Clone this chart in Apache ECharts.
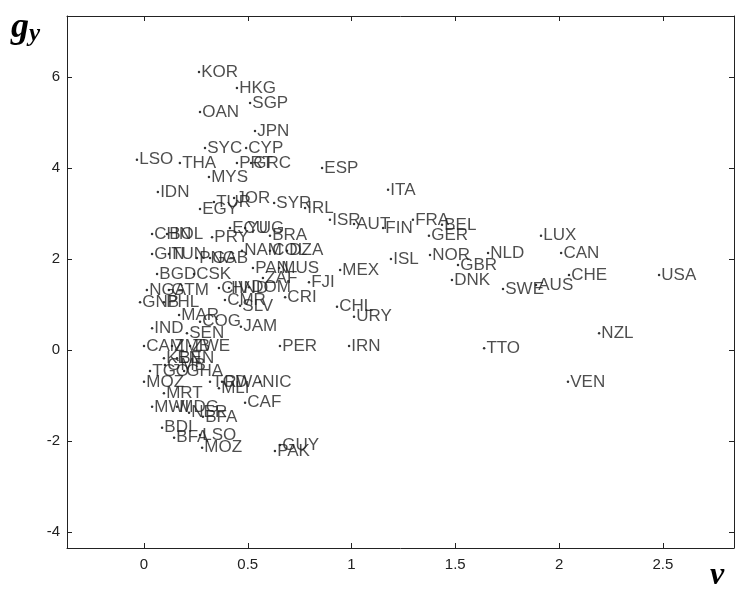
<!DOCTYPE html>
<html><head><meta charset="utf-8">
<script src="https://cdn.jsdelivr.net/npm/echarts@6/dist/echarts.min.js"></script>
<style>html,body{margin:0;padding:0;background:#fff}#c{width:736px;height:590px}</style>
</head><body><div id="c"></div>
<script>
const countries = ["KOR","HKG","SGP","OAN","JPN","SYC","CYP","LSO","THA","PRT","GRC","ESP","MYS","IDN","ITA","TUR","JOR","EGY","SYR","IRL","ISR","AUT","FIN","FRA","BEL","GER","LUX","ECU","YUG","CHN","BOL","PRY","BRA","NAM","COL","DZA","GIN","TUN","PNG","GAB","ISL","NOR","NLD","CAN","GBR","MEX","PAN","MUS","CHE","USA","BGD","CSK","ZAF","DNK","FJI","AUS","SWE","NGA","GTM","CIV","HND","DOM","CRI","CMR","GNB","PHL","SLV","CHL","MAR","URY","COG","JAM","IND","NZL","SEN","PER","IRN","TTO","CAM","ZMB","ZWE","KEN","BEN","TGO","GMB","GHA","VEN","MOZ","TCD","RWA","NIC","MLI","MRT","CAF","MWI","MDG","NER","BFA","BDI","BFA","LSO","MOZ","GUY","PAK"];
const xVals = [0.265,0.448,0.511,0.270,0.535,0.294,0.492,-0.034,0.173,0.448,0.516,0.858,0.313,0.067,1.176,0.337,0.434,0.270,0.627,0.776,0.896,1.012,1.152,1.296,1.436,1.373,1.913,0.414,0.487,0.039,0.111,0.328,0.607,0.472,0.607,0.689,0.039,0.120,0.255,0.318,1.190,1.378,1.658,2.010,1.513,0.945,0.525,0.651,2.048,2.482,0.063,0.241,0.573,1.484,0.795,1.889,1.730,0.014,0.120,0.361,0.410,0.506,0.680,0.390,-0.019,0.096,0.463,0.930,0.169,1.012,0.270,0.467,0.039,2.193,0.207,0.655,0.988,1.639,0.000,0.135,0.222,0.096,0.159,0.029,0.101,0.193,2.043,0.000,0.318,0.376,0.559,0.361,0.096,0.487,0.039,0.159,0.217,0.284,0.087,0.145,0.270,0.280,0.655,0.631];
const yVals = [6.11,5.76,5.43,5.23,4.81,4.44,4.44,4.18,4.11,4.11,4.11,4.00,3.80,3.47,3.52,3.25,3.34,3.10,3.23,3.12,2.86,2.77,2.68,2.86,2.75,2.51,2.51,2.68,2.68,2.55,2.55,2.48,2.51,2.18,2.18,2.18,2.11,2.11,2.02,2.02,2.00,2.09,2.13,2.13,1.87,1.76,1.80,1.80,1.65,1.65,1.67,1.67,1.58,1.54,1.49,1.43,1.34,1.32,1.32,1.36,1.36,1.38,1.16,1.10,1.05,1.05,0.97,0.95,0.77,0.73,0.62,0.51,0.48,0.37,0.37,0.09,0.09,0.04,0.09,0.09,0.09,-0.18,-0.18,-0.46,-0.33,-0.46,-0.70,-0.70,-0.70,-0.70,-0.70,-0.84,-0.95,-1.16,-1.25,-1.25,-1.38,-1.47,-1.71,-1.93,-1.87,-2.15,-2.09,-2.22];
const xTicks = [0,0.5,1,1.5,2,2.5];
const yTicks = [-4,-2,0,2,4,6];

const chart = echarts.init(document.getElementById('c'), null, {renderer:'canvas'});
const lineStyle = {color:'#222', width:1};
const tickStyle = {show:true, inside:true, length:5, lineStyle:{color:'#222', width:1}};
const tickFont = {color:'#222', fontSize:15, fontFamily:'"Liberation Sans Narrow","Liberation Sans",Arial,sans-serif'};
function xAx(pos, lab){
  return {type:'value', position:pos, min:-0.371, max:2.843,
    axisLine:{show:true, onZero:false, lineStyle},
    axisTick:Object.assign({customValues:xTicks}, tickStyle),
    axisLabel:Object.assign({show:lab, customValues:xTicks, margin:9, formatter:v=>String(v)}, tickFont),
    splitLine:{show:false}};
}
function yAx(pos, lab){
  return {type:'value', position:pos, min:-4.352, max:7.34,
    axisLine:{show:true, onZero:false, lineStyle},
    axisTick:Object.assign({customValues:yTicks}, tickStyle),
    axisLabel:Object.assign({show:lab, customValues:yTicks, margin:7, formatter:v=>String(v)}, tickFont),
    splitLine:{show:false}};
}
chart.setOption({
  animation:false,
  backgroundColor:'#fff',
  grid:{left:67, right:2, top:16, bottom:42, containLabel:false},
  xAxis:[xAx('bottom', true), xAx('top', false)],
  yAxis:[yAx('left', true), yAx('right', false)],
  graphic:[
    {type:'text', left:11, top:10, style:{text:'{g|g}{s|y}', rich:{
      g:{fontFamily:'"Liberation Serif","DejaVu Serif",serif', fontWeight:'bold', fontStyle:'italic', fontSize:36, fill:'#000'},
      s:{fontFamily:'"Liberation Serif","DejaVu Serif",serif', fontWeight:'bold', fontStyle:'italic', fontSize:25, fill:'#000', padding:[14,0,0,0]}
    }}},
    {type:'text', left:710, top:560, style:{text:'v', fontFamily:'"Liberation Serif","DejaVu Serif",serif', fontWeight:'bold', fontStyle:'italic', fontSize:32, fill:'#000'}}
  ],
  series:[{
    type:'scatter', xAxisIndex:0, yAxisIndex:0,
    data:countries.map((c,i)=>[xVals[i], yVals[i], c]),
    symbol:'circle', symbolSize:2.5,
    itemStyle:{color:'#000'},
    label:{show:true, position:'right', distance:1, formatter:p=>p.data[2],
      fontSize:17, color:'#222', fontFamily:'"Liberation Sans",Arial,sans-serif'},
    labelLayout:{hideOverlap:false},
    emphasis:{disabled:true}
  }]
});
</script>
</body></html>
